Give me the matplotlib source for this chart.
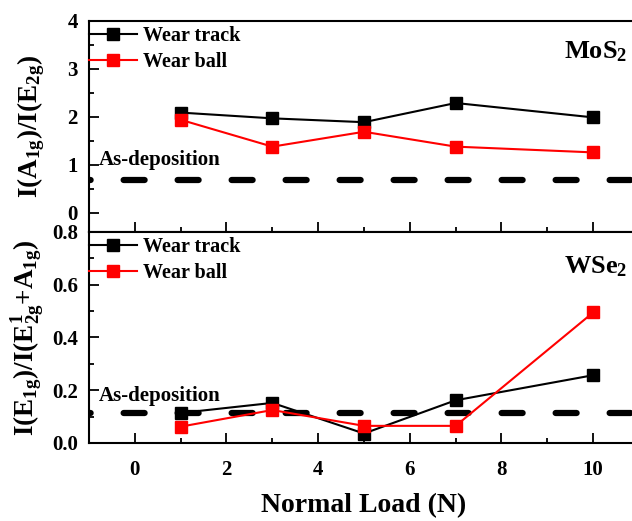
import matplotlib
matplotlib.use("Agg")
import matplotlib.pyplot as plt
from matplotlib.ticker import MultipleLocator

plt.rcParams["font.family"] = ["Liberation Serif", "DejaVu Serif"]
plt.rcParams["font.weight"] = "bold"
plt.rcParams["mathtext.fontset"] = "custom"
plt.rcParams["mathtext.rm"] = "Liberation Serif:bold"
plt.rcParams["mathtext.it"] = "Liberation Serif:bold"
plt.rcParams["mathtext.bf"] = "Liberation Serif:bold"

# Normal load (N)
loads = [1, 3, 5, 7, 10]

# MoS2: I(A1g)/I(E2g)
mos2_track = [2.09, 1.97, 1.89, 2.29, 1.99]
mos2_ball = [1.94, 1.38, 1.69, 1.38, 1.26]
mos2_asdep = 0.69

# WSe2: I(E1g)/I(E1_2g + A1g)
wse2_track = [0.114, 0.152, 0.036, 0.162, 0.257]
wse2_ball = [0.062, 0.125, 0.065, 0.065, 0.495]
wse2_asdep = 0.112

xticks = [0, 2, 4, 6, 8, 10]

W, H = 632, 521
fig = plt.figure(figsize=(W / 100, H / 100), dpi=100)

left = 89 / W
width = 550 / W
ax1 = fig.add_axes([left, (H - 232) / H, width, 211 / H])
ax2 = fig.add_axes([left, (H - 443) / H, width, 211 / H])

lw_line = 1.5
ms = 8
tick_fs = 15

def style(ax):
    for s in ["left", "top", "bottom", "right"]:
        ax.spines[s].set_linewidth(1.5)
    ax.set_xlim(-1, 11)
    ax.xaxis.set_major_locator(MultipleLocator(2))
    ax.xaxis.set_minor_locator(MultipleLocator(1))
    ax.tick_params(which="both", direction="in", top=False, right=False, width=1.3)
    ax.tick_params(which="major", length=7, labelsize=tick_fs, pad=8)
    ax.tick_params(which="minor", length=3.5)
    ax.tick_params(axis="x", which="major", pad=12)
    for lab in ax.get_xticklabels() + ax.get_yticklabels():
        lab.set_fontweight("bold")

def draw(ax, track, ball, asdep):
    ax.plot(loads, track, color="black", marker="s", ms=ms, lw=lw_line,
            label="Wear track", zorder=3)
    ax.plot(loads, ball, color="#ff0000", marker="s", ms=ms, lw=lw_line,
            label="Wear ball", zorder=3)
    ax.axhline(asdep, color="black", lw=4.5, dash_capstyle="round",
               linestyle=(3.1, (3.36, 5.28)), zorder=2)
    leg = ax.legend(loc="upper left", bbox_to_anchor=(0.0, 0.975), frameon=False,
                    borderpad=0, borderaxespad=0, handlelength=2.4,
                    handletextpad=0.3, labelspacing=0.3,
                    prop={"family": "Liberation Serif", "weight": "bold", "size": 14.5})
    return leg

# Top panel: MoS2
draw(ax1, mos2_track, mos2_ball, mos2_asdep)
ax1.set_ylim(-0.4, 4)
ax1.yaxis.set_major_locator(MultipleLocator(1))
ax1.yaxis.set_minor_locator(MultipleLocator(0.5))
style(ax1)
ax1.tick_params(axis="x", labelbottom=False)
ax1.text(-0.78, 1.1, "As-deposition", fontsize=15, fontweight="bold",
         va="center", ha="left")
ax1.text(10.75, 3.35, "MoS$_2$", fontsize=19, fontweight="bold",
         va="center", ha="right")
ax1.set_ylabel("I(A$_{1g}$)/I(E$_{2g}$)", fontsize=19.5, fontweight="bold")

# Bottom panel: WSe2
draw(ax2, wse2_track, wse2_ball, wse2_asdep)
ax2.set_ylim(0, 0.8)
ax2.yaxis.set_major_locator(MultipleLocator(0.2))
ax2.yaxis.set_minor_locator(MultipleLocator(0.1))
style(ax2)
ax2.set_xticks(xticks)
ax2.set_yticklabels([f"{v:.1f}" for v in ax2.get_yticks()], fontweight="bold")
ax2.text(-0.78, 0.178, "As-deposition", fontsize=15, fontweight="bold",
         va="center", ha="left")
ax2.text(10.75, 0.67, "WSe$_2$", fontsize=19, fontweight="bold",
         va="center", ha="right")
ax2.set_ylabel("I(E$_{1g}$)/I(E$^1_{2g}$+A$_{1g}$)", fontsize=19.5,
               fontweight="bold")
ax2.set_xlabel("Normal Load (N)", fontsize=20, fontweight="bold", labelpad=10)

for ax in (ax1, ax2):
    ax.yaxis.set_label_coords(-0.076, 0.5)

fig.savefig("out.png", dpi=100)
